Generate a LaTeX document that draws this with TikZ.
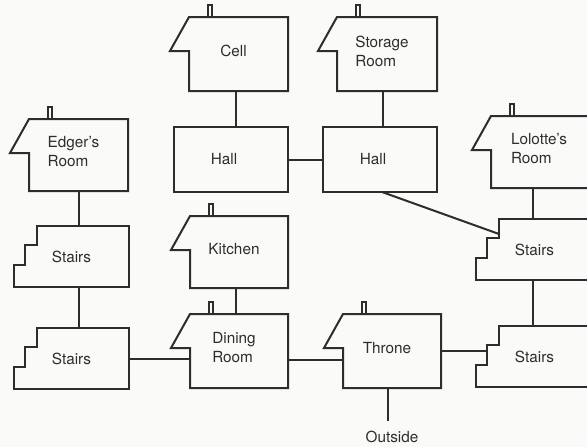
\documentclass[tikz,border=0pt]{standalone}
\usepackage{fontspec}
\setmainfont{TeX Gyre Heros}
\usepackage{xcolor}
\usepackage{tikz}
\usetikzlibrary{calc}
\definecolor{inkgray}{RGB}{45, 45, 45}
\definecolor{paperwhite}{RGB}{250, 250, 248}

% outline of a room with a roof and chimney
\newcommand{\houseoutline}[1]{%
  \draw[wall] (#1.north east) -- (#1.north west) -- ++(-19,34) -- ++(19,0)
    -- (#1.south west) -- (#1.south east) -- cycle;
  \draw[wall] ($(#1.north west)+(19,0)$) -- ++(0,-12) -- ++(4,0) -- ++(0,12);
}
% outline of a stair room, steps on the left
\newcommand{\stairsoutline}[1]{%
  \draw[wall] (#1.north east) -- (#1.north west) -- ++(0,19) -- ++(-12,0)
    -- ++(0,20) -- ++(-11,0) |- (#1.south east) -- cycle;
}

\begin{document}
\begin{tikzpicture}[x=1pt, y=-1pt,
    wall/.style={draw=inkgray, line width=2pt, line join=miter},
    link/.style={draw=inkgray, line width=2pt},
    roomtext/.style={font=\fontsize{15.3}{19}\selectfont, text=inkgray, inner sep=0pt, align=left},
    room/.style={inner sep=0pt, outer sep=0pt},
    house/.style={room, label={[roomtext, xshift=-5pt, yshift=3pt]center:{#1}}},
    stairroom/.style={room, label={[roomtext, xshift=-11.5pt]center:{#1}}},
    hallroom/.style={room, label={[roomtext, xshift=-7pt]center:{#1}}}]

    \useasboundingbox (0,0) rectangle (587,447);
    \fill[paperwhite] (0,0) rectangle (587,447);
    \clip (0,0) rectangle (587,447);

    % Left column
    \node[house={Edger's\\Room}, minimum width=99pt, minimum height=72pt] (edger) at (78.5,155) {};
    \node[stairroom={Stairs}, minimum width=92pt, minimum height=61pt] (stairsA) at (83,256.5) {};
    \node[stairroom={Stairs}, minimum width=92pt, minimum height=61pt] (stairsB) at (83,358.5) {};

    % Middle column
    \node[house={Cell}, minimum width=99pt, minimum height=74pt] (cell) at (238.5,54) {};
    \node[hallroom={Hall}, minimum width=114pt, minimum height=65pt] (hallA) at (231,159.5) {};
    \node[house={Kitchen}, minimum width=98pt, minimum height=72pt] (kitchen) at (239,252) {};
    \node[house={Dining\\Room}, minimum width=98pt, minimum height=74pt] (dining) at (239,351) {};

    \node[house={Storage\\Room}, minimum width=100pt, minimum height=74pt] (storage) at (387,54) {};
    \node[hallroom={Hall}, minimum width=114pt, minimum height=65pt] (hallB) at (380,159.5) {};
    \node[house={Throne}, minimum width=98pt, minimum height=74pt] (throne) at (392,351) {};
    \node[roomtext] (outside) at (392,437) {Outside};

    % Right column (runs off the page)
    \node[house={Lolotte's\\Room}, minimum width=106pt, minimum height=72pt] (lolotte) at (544,152) {};
    \node[stairroom={Stairs}, minimum width=94pt, minimum height=61pt] (stairsC) at (546,249.5) {};
    \node[stairroom={Stairs}, minimum width=94pt, minimum height=61pt] (stairsD) at (546,356.5) {};

    % Outlines
    \houseoutline{edger}
    \stairsoutline{stairsA}
    \stairsoutline{stairsB}
    \houseoutline{cell}
    \draw[wall] (hallA.north west) rectangle (hallA.south east);
    \houseoutline{kitchen}
    \houseoutline{dining}
    \houseoutline{storage}
    \draw[wall] (hallB.north west) rectangle (hallB.south east);
    \houseoutline{throne}
    \houseoutline{lolotte}
    \stairsoutline{stairsC}
    \stairsoutline{stairsD}

    % Doors between rooms
    \draw[link] (edger.south) -- (edger.south |- stairsA.north);
    \draw[link] (stairsA.south -| edger.south) -- (stairsB.north -| edger.south);
    \draw[link] (stairsB.east) -- (stairsB.east -| dining.west);
    \draw[link] ([yshift=-9pt]dining.east) -- ([yshift=-9pt]throne.west);
    \draw[link] ([xshift=-3pt]kitchen.south) -- ([xshift=-3pt]dining.north);
    \draw[link] ([xshift=-3pt]cell.south) -- ([xshift=-3pt]cell.south |- hallA.north);
    \draw[link] (hallA.east) -- (hallB.west);
    \draw[link] ([xshift=-4pt]storage.south) -- ([xshift=-4pt]storage.south |- hallB.north);
    \draw[link] ([xshift=2pt]hallB.south) -- ($(stairsC.north west)+(0,15)$);
    \draw[link] ($(lolotte.south west)+(42,0)$) -- ($(stairsC.north west)+(34,0)$);
    \draw[link] ($(stairsC.south west)+(34,0)$) -- ($(stairsD.north west)+(34,0)$);
    \draw[link] (throne.east) -- ($(throne.east -| stairsD.west)+(-12,0)$);
    \draw[link] ([xshift=-4pt]throne.south) -- ([xshift=-4pt,yshift=10pt]outside.north);
\end{tikzpicture}
\end{document}
